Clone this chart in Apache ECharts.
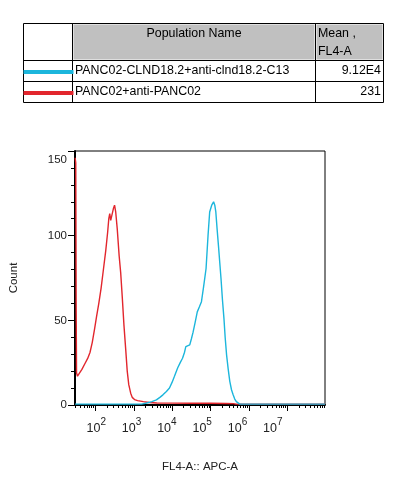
<!DOCTYPE html>
<html>
<head>
<meta charset="utf-8">
<script src="https://cdn.jsdelivr.net/npm/echarts@6/dist/echarts.min.js"></script>
<style>
  html, body { margin: 0; padding: 0; background: #fff; }
  #main { width: 399px; height: 478px; }
</style>
</head>
<body>
<div id="main"></div>
<script>
// populations shown in the table (same order as the table rows)
var popNames = ['PANC02-CLND18.2+anti-clnd18.2-C13', 'PANC02+anti-PANC02']
var popMeans = ['9.12E4', '231']
var popColors = ['#1cb6dc', '#e2262d']

// x is log10(FL4-A), y is count
var blueX = [1.473, 3.2, 3.34, 3.47, 3.59, 3.68, 3.76, 3.85, 3.93, 4.0, 4.06, 4.11, 4.145, 4.21, 4.27, 4.32, 4.356, 4.4, 4.458, 4.5, 4.545, 4.6, 4.654, 4.71, 4.763, 4.82, 4.883, 4.934, 4.977, 5.03, 5.079, 5.11, 5.137, 5.17, 5.206, 5.24, 5.272, 5.31, 5.349, 5.38, 5.417, 5.46, 5.501, 5.545, 5.588, 5.63, 5.672, 5.72, 5.76, 7.98]
var blueY = [0.5, 0.5, 1.2, 2, 3, 4.5, 6, 8, 10, 13.5, 17, 20, 22, 25, 27.6, 31, 34.5, 35.5, 35.5, 39, 43, 49, 55, 58, 61, 70, 80.6, 100, 114, 118, 120, 118, 114, 104, 94, 84, 74.7, 62, 51, 40, 29.6, 21, 14, 9, 6, 3.5, 2, 1, 0.5, 0.5]

var redX = [1.474, 1.49, 1.5, 1.51, 1.535, 1.58, 1.65, 1.73, 1.8, 1.86, 1.92, 1.98, 2.03, 2.09, 2.15, 2.21, 2.27, 2.32, 2.35, 2.375, 2.4, 2.43, 2.47, 2.5, 2.53, 2.57, 2.62, 2.66, 2.7, 2.745, 2.79, 2.83, 2.87, 2.92, 2.96, 3.02, 3.1, 3.25, 3.4, 3.6, 4.0, 4.5, 5.0, 5.4, 5.6, 5.66, 7.98]
var redY = [146, 143, 60, 19, 17, 18, 21, 24.5, 27.5, 31, 37, 45, 52, 60, 69, 80, 91, 102, 110, 113, 109, 110, 116, 118, 114, 104, 88, 78, 64, 47, 33, 20, 12, 7, 4.5, 3.2, 2.6, 2, 1.5, 1.2, 1.1, 1.0, 1.0, 0.9, 0.8, 0.5, 0.5]

var decades = [2, 3, 4, 5, 6, 7]
var xMin = 1.47, xMax = 7.98
// the decade labels in the original drift left of their ticks (36px steps vs 39px)
var labelMin = 1.397, labelMax = 8.48

var font = 'Liberation Sans'
var tFont = '12.4px "' + font + '"'

function pairs(xs, ys) {
    return xs.map(function (x, i) { return [x, ys[i]] })
}

// minor ticks at 2..9 x 10^k
var minorTicks = []
for (var k = 1; k <= 7; k++) {
    for (var m = 2; m <= 9; m++) {
        var v = Math.log10(m) + k
        if (v > xMin && v < xMax) minorTicks.push(v)
    }
}

/*
* table above the plot
* */
var tx0 = 23.5, tc1 = 72.5, tc2 = 315.5, tx1 = 383.5
var ty = [23.5, 60.5, 81.5, 102.5]
var table = []
table.push({ type: 'rect', shape: { x: tc1 + 1, y: ty[0] + 1, width: tc2 - tc1 - 2, height: ty[1] - ty[0] - 2 }, style: { fill: '#c0c0c0' } })
table.push({ type: 'rect', shape: { x: tc2 + 1, y: ty[0] + 1, width: tx1 - tc2 - 2, height: ty[1] - ty[0] - 2 }, style: { fill: '#c0c0c0' } })
ty.forEach(function (y) {
    table.push({ type: 'line', shape: { x1: tx0, y1: y, x2: tx1, y2: y }, style: { stroke: '#000', lineWidth: 1 } })
})
;[tx0, tc1, tc2, tx1].forEach(function (x) {
    table.push({ type: 'line', shape: { x1: x, y1: ty[0], x2: x, y2: ty[3] }, style: { stroke: '#000', lineWidth: 1 } })
})
function txt(s, x, y, align) {
    return { type: 'text', style: { text: s, x: x, y: y, font: tFont, fill: '#000', align: align, textAlign: align, verticalAlign: 'middle', textVerticalAlign: 'middle' } }
}
table.push(txt('Population Name', (tc1 + tc2) / 2, 34, 'center'))
table.push(txt('Mean ,', 318, 34, 'left'))
table.push(txt('FL4-A', 318, 52, 'left'))
popNames.forEach(function (name, i) {
    var cy = (ty[i + 1] + ty[i + 2]) / 2
    table.push({ type: 'line', shape: { x1: tx0, y1: cy + 1, x2: tc1 + 1, y2: cy + 1 }, style: { stroke: popColors[i], lineWidth: 4 } })
    table.push(txt(name, 75, cy, 'left'))
    table.push(txt(popMeans[i], 381, cy, 'right'))
})

var chart = echarts.init(document.getElementById('main'))
chart.setOption({
    animation: false,
    backgroundColor: '#fff',
    graphic: { elements: table },
    grid: {
        left: 70, top: 151, right: 74, bottom: 71,
        show: true, borderColor: '#000', borderWidth: 1, backgroundColor: 'transparent'
    },
    xAxis: [{
        type: 'value', min: xMin, max: xMax, position: 'bottom',
        name: 'FL4-A:: APC-A', nameLocation: 'middle', nameGap: 56,
        nameTextStyle: { fontFamily: font, fontSize: 11.5, color: '#222' },
        axisLine: { onZero: false, lineStyle: { color: '#000', width: 2 } },
        axisTick: { show: true, inside: false, length: 6, customValues: decades, lineStyle: { color: '#000', width: 1 } },
        splitLine: { show: false },
        axisLabel: { show: false }
    }, {
        type: 'value', min: xMin, max: xMax, position: 'bottom',
        axisLine: { show: false, onZero: false },
        axisTick: { show: true, inside: false, length: 3, customValues: minorTicks, lineStyle: { color: '#000', width: 1 } },
        axisLabel: { show: false },
        splitLine: { show: false }
    }, {
        type: 'value', min: labelMin, max: labelMax, position: 'bottom',
        axisLine: { show: false, onZero: false },
        axisTick: { show: false },
        splitLine: { show: false },
        axisLabel: {
            customValues: decades, margin: 12,
            formatter: function (v) { return '{b|10}{s|' + v + '}' },
            rich: {
                b: { fontFamily: font, fontSize: 12.5, color: '#222', lineHeight: 18, verticalAlign: 'bottom' },
                s: { fontFamily: font, fontSize: 10, color: '#222', lineHeight: 18, verticalAlign: 'top' }
            }
        }
    }],
    yAxis: {
        type: 'value', min: 0, max: 150, interval: 50,
        name: 'Count', nameLocation: 'middle', nameGap: 55,
        nameTextStyle: { fontFamily: font, fontSize: 11.5, color: '#222' },
        axisLine: { show: true, onZero: false, lineStyle: { color: '#000', width: 2 } },
        axisTick: { show: true, inside: false, length: 7, lineStyle: { color: '#000' } },
        minorTick: { show: true, splitNumber: 5, length: 4, lineStyle: { color: '#000' } },
        splitLine: { show: false },
        minorSplitLine: { show: false },
        axisLabel: {
            margin: 8, fontFamily: font, fontSize: 11.5, color: '#222',
            formatter: function (v) { return v === 150 ? '{t|150}' : String(v) },
            rich: { t: { fontFamily: font, fontSize: 11.5, color: '#222', padding: [18, 0, 0, 0] } }
        }
    },
    series: [{
        name: popNames[1], type: 'line', data: pairs(redX, redY),
        showSymbol: false, lineStyle: { color: popColors[1], width: 1.4 }
    }, {
        name: popNames[0], type: 'line', data: pairs(blueX, blueY),
        showSymbol: false, lineStyle: { color: popColors[0], width: 1.4 }
    }]
})
</script>
</body>
</html>
